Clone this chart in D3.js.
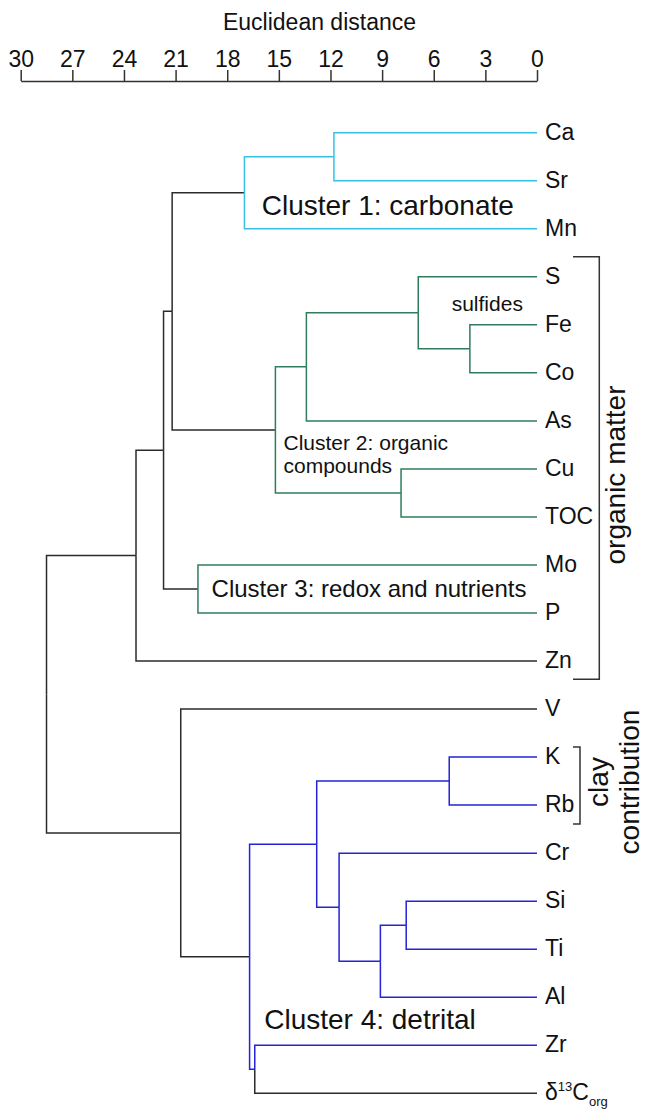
<!DOCTYPE html>
<html>
<head>
<meta charset="utf-8">
<script src="https://cdn.jsdelivr.net/npm/d3@7"></script>
<style>
  html, body { margin: 0; padding: 0; background: #fff; }
  svg { display: block; font-family: "Liberation Sans", Arial, Helvetica, sans-serif; }
</style>
</head>
<body>
<svg id="chart" width="645" height="1111"></svg>
<script>
// Leaves in drawing order (top to bottom)
const leafNames = ["Ca","Sr","Mn","S","Fe","Co","As","Cu","TOC","Mo","P","Zn",
                   "V","K","Rb","Cr","Si","Ti","Al","Zr","d13C"];
// Cluster membership of each leaf's own branch (0 = unclustered)
const leafGroup = [1,1,1,2,2,2,2,2,2,3,3,0, 0,4,4,4,4,4,4,4,0];

// Agglomeration steps: merged node id, its two members, fusion distance
const mergeId     = ["CaSr","C1","FeCo","SFeCo","SAs","CuTOC","C2","C12","C3","C123","OM",
                     "KRb","SiTi","SiTiAl","CrSiTiAl","Clay","ZrD","C4","VC4","root"];
const mergeLeft   = ["Ca","CaSr","Fe","S","SFeCo","Cu","SAs","C1","Mo","C12","C123",
                     "K","Si","SiTi","Cr","KRb","Zr","Clay","V","OM"];
const mergeRight  = ["Sr","Mn","Co","FeCo","As","TOC","CuTOC","C2","P","C3","Zn",
                     "Rb","Ti","Al","SiTiAl","CrSiTiAl","d13C","ZrD","C4","VC4"];
const mergeHeight = [11.8,17.0,3.9,6.9,13.4,7.9,15.2,21.2,19.7,21.7,23.3,
                     5.1,7.6,9.1,11.5,12.8,16.4,16.7,20.7,28.5];
// Cluster membership of the branch leading into each merged node
const mergeGroup  = [1,0,2,2,2,2,0,0,0,0,0, 4,4,4,4,4,4,0,0,0];

// Axis ticks
const tickValues = [30,27,24,21,18,15,12,9,6,3,0];
const axisTitle = "Euclidean distance";

// ---- scales ----
const svg = d3.select("#chart");
const x = d3.scaleLinear().domain([30, 0]).range([20.7, 537]);
const y = d3.scalePoint().domain(leafNames).range([132.7, 1093.3]);
const groupColor = d3.scaleOrdinal()
  .domain([0, 1, 2, 3, 4])
  .range(["#2b2b2b", "#35c2e2", "#2f7d5c", "#2f7d5c", "#2323d8"]);

// ---- build tree from merge steps ----
const nodes = {};
leafNames.forEach((n, i) => { nodes[n] = { name: n, height: 0, group: leafGroup[i] }; });
mergeId.forEach((id, i) => {
  nodes[id] = { name: id, height: mergeHeight[i], group: mergeGroup[i],
                children: [nodes[mergeLeft[i]], nodes[mergeRight[i]]] };
});
const root = d3.hierarchy(nodes["root"]);
root.eachAfter(d => {
  d.py = d.children ? (d.children[0].py + d.children[d.children.length - 1].py) / 2
                    : y(d.data.name);
});

// ---- axis ----
const axisG = svg.append("g").attr("transform", "translate(0,81)")
  .call(d3.axisTop(x).tickValues(tickValues).tickSize(11).tickSizeOuter(0).tickPadding(3));
axisG.select(".domain").attr("stroke", "#333").attr("stroke-width", 1.5);
axisG.selectAll(".tick line").attr("stroke", "#333").attr("stroke-width", 1.5);
axisG.selectAll(".tick text").attr("font-size", 23).attr("fill", "#111")
  .attr("font-family", "Liberation Sans, Arial, sans-serif");

svg.append("text").attr("x", 319.5).attr("y", 30).attr("text-anchor", "middle")
  .attr("font-size", 23).attr("fill", "#111").text(axisTitle);

// ---- dendrogram branches ----
svg.append("g").attr("fill", "none").attr("stroke-width", 1.5)
  .selectAll("path")
  .data(root.descendants().filter(d => d.parent))
  .join("path")
  .attr("stroke", d => groupColor(d.data.group))
  .attr("d", d => `M${x(d.parent.data.height)},${d.parent.py}V${d.py}H${x(d.data.height)}`);

// ---- leaf labels ----
const labelX = 545;
const labelG = svg.append("g").attr("font-size", 23).attr("fill", "#111");
root.leaves().forEach(d => {
  const t = labelG.append("text").attr("x", labelX).attr("y", d.py + 7);
  if (d.data.name === "d13C") {
    t.append("tspan").text("δ");
    t.append("tspan").attr("font-size", 13).attr("dy", -9).text("13");
    t.append("tspan").attr("dy", 9).text("C");
    t.append("tspan").attr("font-size", 13).attr("dy", 6).text("org");
  } else {
    t.text(d.data.name);
  }
});

// ---- cluster annotations ----
const ann = svg.append("g").attr("fill", "#111");
ann.append("text").attr("x", 261.7).attr("y", 215).attr("font-size", 28).text("Cluster 1: carbonate");
ann.append("text").attr("x", 451.7).attr("y", 310.7).attr("font-size", 21).text("sulfides");
ann.append("text").attr("x", 283.5).attr("y", 450).attr("font-size", 21).text("Cluster 2: organic");
ann.append("text").attr("x", 283.5).attr("y", 472.7).attr("font-size", 21).text("compounds");
ann.append("text").attr("x", 211.6).attr("y", 597.3).attr("font-size", 24).text("Cluster 3: redox and nutrients");
ann.append("text").attr("x", 264.2).attr("y", 1029.3).attr("font-size", 28).text("Cluster 4: detrital");

// ---- brackets ----
const br = svg.append("g").attr("fill", "none").attr("stroke", "#333").attr("stroke-width", 1.5);
br.append("path").attr("d", "M573,256.7H599.3V679.3H573");
br.append("path").attr("d", "M573,747H580V824H573");

ann.append("text").attr("transform", "translate(625,475) rotate(-90)")
  .attr("text-anchor", "middle").attr("font-size", 28).text("organic matter");
ann.append("text").attr("transform", "translate(608,782) rotate(-90)")
  .attr("text-anchor", "middle").attr("font-size", 28).text("clay");
ann.append("text").attr("transform", "translate(639,782) rotate(-90)")
  .attr("text-anchor", "middle").attr("font-size", 28).text("contribution");
</script>
</body>
</html>
